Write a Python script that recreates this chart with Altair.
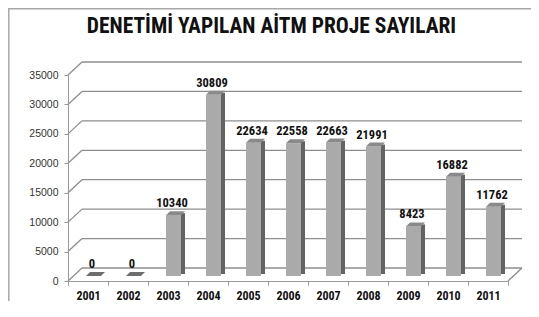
import altair as alt
import pandas as pd

# ---- data ----
years = ["2001", "2002", "2003", "2004", "2005", "2006", "2007", "2008", "2009", "2010", "2011"]
values = [0, 0, 10340, 30809, 22634, 22558, 22663, 21991, 8423, 16882, 11762]
y_ticks = [0, 5000, 10000, 15000, 20000, 25000, 30000, 35000]
title_text = "DENETİMİ YAPILAN AİTM PROJE SAYILARI"

# ---- layout constants ----
W, H = 440, 206
DX, DY = 14, -13
FONT_N = "Roboto Condensed, Liberation Sans, sans-serif"
FONT = "Liberation Sans, Arial, sans-serif"
GRID = "#8e8e8e"

df = pd.DataFrame({"year": years, "value": values})
grid_df = pd.DataFrame({"tick": y_ticks})
zero_df = pd.DataFrame({"tick": [0]})
one_df = pd.DataFrame({"t": [title_text]})

xscale = alt.Scale(domain=years, paddingInner=0, paddingOuter=0)
yscale = alt.Scale(domain=[0, 35000], nice=False, zero=True)

yaxis = alt.Axis(title=None, values=y_ticks, format="d", labelFont=FONT, labelFontSize=10.5,
                 labelColor="#333333", tickSize=4, tickColor="#999999", domainColor="#999999",
                 grid=False, labelPadding=6)
xaxis = alt.Axis(title=None, labelFont=FONT_N, labelFontSize=12, labelFontWeight="bold",
                 labelColor="#111111", tickBand="extent", tickSize=4, tickColor="#999999",
                 domainColor="#999999", labelPadding=5, labelAngle=0)

wall = alt.Chart(grid_df).mark_rule(color=GRID, strokeWidth=1.3, yOffset=DY).encode(
    y=alt.Y("tick:Q", scale=yscale, axis=yaxis),
    x=alt.value(DX), x2=alt.value(W + DX))

diag = alt.Chart(grid_df).mark_rule(color=GRID, strokeWidth=1.3, y2Offset=DY).encode(
    y=alt.Y("tick:Q", scale=yscale, axis=yaxis), y2="tick:Q",
    x=alt.value(0), x2=alt.value(DX))

floor_edge = alt.Chart(zero_df).mark_rule(color=GRID, strokeWidth=1.3, y2Offset=DY).encode(
    y=alt.Y("tick:Q", scale=yscale, axis=yaxis), y2="tick:Q",
    x=alt.value(W), x2=alt.value(W + DX))

base = alt.Chart(df)
X = alt.X("year:N", scale=xscale, axis=xaxis, sort=years)
Y = alt.Y("value:Q", scale=yscale, axis=yaxis)

front = base.mark_bar(size=15, xOffset=5.5, yOffset=-5, color="#aaaaaa").encode(x=X, y=Y)
side = base.mark_bar(size=4, xOffset=15, yOffset=-7, color="#636363").encode(x=X, y=Y)
top = base.mark_point(shape="M -2 -5 L 13 -5 L 17 -9 L 2 -9 Z", size=4, filled=True,
                      opacity=1, strokeWidth=0).encode(
    x=X, y=Y,
    color=alt.condition(alt.datum.value == 0, alt.value("#6e6e6e"), alt.value("#8a8a8a")))

labels = base.mark_text(font=FONT_N, fontSize=12.5, fontWeight="bold", dy=-13, xOffset=4,
                        baseline="alphabetic", align="center", color="#111111").encode(
    x=X, y=Y, text=alt.Text("value:Q", format="d"))

title = alt.Chart(one_df).mark_text(font=FONT_N, fontSize=21.5, fontWeight="bold", align="center",
                                    baseline="alphabetic", color="#111111").encode(
    text="t:N", x=alt.value(203.5), y=alt.value(-42))

border_l = alt.Chart(zero_df).mark_rule(color="#a8a8a8", strokeWidth=1.5).encode(
    x=alt.value(-59.2), y=alt.value(-67), y2=alt.value(226))
border_t = alt.Chart(zero_df).mark_rule(color="#a8a8a8", strokeWidth=1.5).encode(
    x=alt.value(-60), x2=alt.value(463), y=alt.value(-66.2))

chart = alt.layer(wall, diag, floor_edge, front, side, top, labels, title, border_l, border_t).properties(
    width=W, height=H,
    autosize=alt.AutoSizeParams(type="none"),
    padding={"left": 60, "top": 67, "right": 23, "bottom": 20},
).configure_view(stroke=None)

chart.save("out.html", embed_options={"renderer": "svg", "actions": False})
